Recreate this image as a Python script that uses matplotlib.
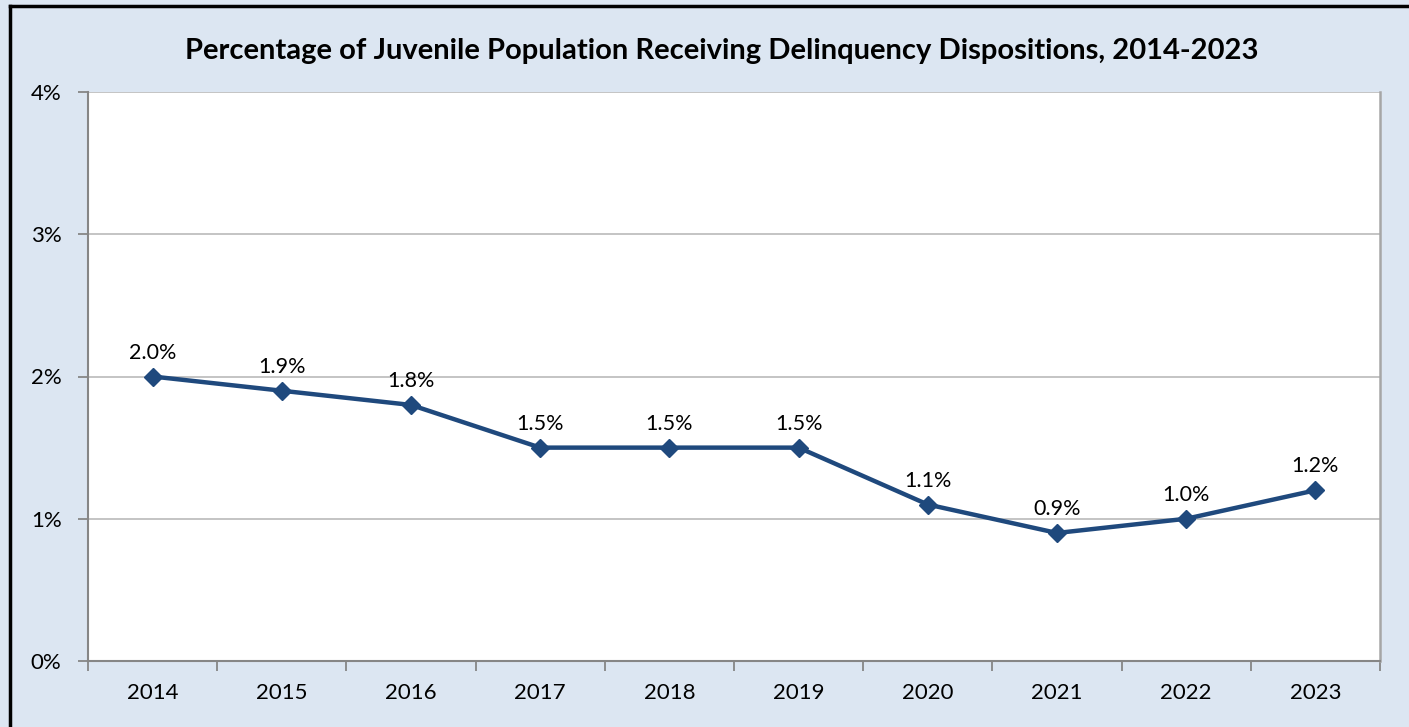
import matplotlib
matplotlib.use("Agg")
import matplotlib.pyplot as plt
from matplotlib.lines import Line2D
import numpy as np

years = ["2014", "2015", "2016", "2017", "2018", "2019", "2020", "2021", "2022", "2023"]
values = [2.0, 1.9, 1.8, 1.5, 1.5, 1.5, 1.1, 0.9, 1.0, 1.2]
y_ticks = [0, 1, 2, 3, 4]
title = "Percentage of Juvenile Population Receiving Delinquency Dispositions, 2014-2023"

plt.rcParams['font.family'] = ['Lato', 'DejaVu Sans']

W, H = 1409, 727
fig = plt.figure(figsize=(W / 100, H / 100), dpi=100)
fig.patch.set_facecolor("#DCE6F2")

left, right, top, bottom = 88, 1380, 92, 661
ax = fig.add_axes([left / W, 1 - bottom / H, (right - left) / W, (bottom - top) / H])
ax.set_facecolor("white")

x = np.arange(len(years))
ax.plot(x, values, color="#1F497D", lw=3.2, marker="D", ms=9.5, zorder=3, clip_on=False)
for xi, v in zip(x, values):
    ax.annotate(f"{v:.1f}%", (xi, v), xytext=(0, 10), textcoords="offset points",
                ha="center", va="bottom", fontsize=15.5, color="black")

ax.set_xlim(-0.5, len(years) - 0.5)
ax.set_ylim(0, 4)
ax.set_yticks(y_ticks)
ax.set_yticklabels([f"{t}%" for t in y_ticks], fontsize=16)
ax.set_xticks(x)
ax.set_xticklabels(years, fontsize=16)
ax.set_xticks(np.arange(len(years) + 1) - 0.5, minor=True)
ax.tick_params(axis="x", which="major", length=0, pad=16)
ax.tick_params(axis="x", which="minor", length=7, color="#868686", width=1.3)
ax.tick_params(axis="y", length=7, color="#868686", width=1.3, pad=12)
ax.grid(axis="y", color="#BFBFBF", lw=1.3)
ax.set_axisbelow(True)
for s in ["left", "bottom"]:
    ax.spines[s].set_color("#868686")
    ax.spines[s].set_linewidth(1.5)
ax.spines["top"].set_visible(False)
ax.spines["right"].set_color("#A6A6A6")
ax.spines["right"].set_linewidth(1.8)

fig.text((left + right) / 2 / W - 0.009, 1 - 51 / H, title, ha="center", va="center",
         fontsize=21, fontweight="bold", color="black")

bx, by = 9.5 / W, 1 - 5.5 / H
fig.add_artist(Line2D([bx, bx], [0, by], transform=fig.transFigure, color="black", lw=2.5))
fig.add_artist(Line2D([bx, 1], [by, by], transform=fig.transFigure, color="black", lw=2.5))

fig.savefig("out.png", dpi=100, facecolor=fig.get_facecolor())
